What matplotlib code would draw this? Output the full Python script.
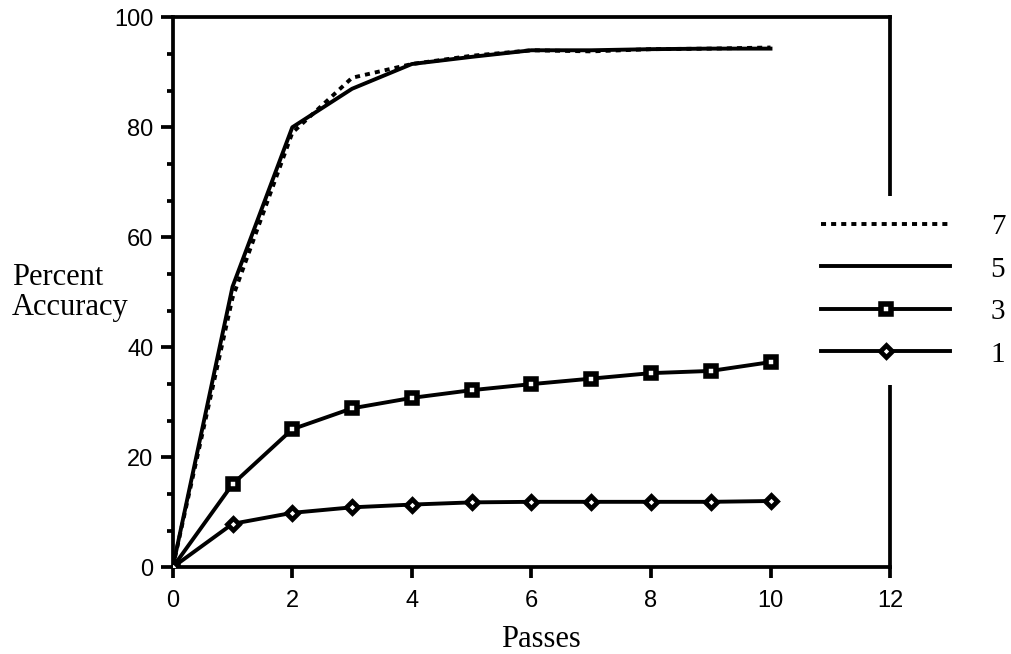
import matplotlib
matplotlib.use("Agg")
import matplotlib.pyplot as plt
from matplotlib.ticker import MultipleLocator

passes = [0, 1, 2, 3, 4, 5, 6, 7, 8, 9, 10]
acc_7 = [0, 49, 79, 89, 91.5, 93, 94, 93.8, 94.2, 94.3, 94.5]
acc_5 = [0, 51, 80, 87, 91.5, 92.8, 94, 94, 94.2, 94.3, 94.3]
acc_3 = [0, 15.1, 25.1, 28.9, 30.8, 32.2, 33.3, 34.3, 35.3, 35.7, 37.3]
acc_1 = [0, 7.9, 9.9, 10.9, 11.4, 11.8, 11.9, 11.9, 11.9, 11.9, 12.05]
labels = ["7", "5", "3", "1"]
x_ticks = [0, 2, 4, 6, 8, 10, 12]
y_ticks = [0, 20, 40, 60, 80, 100]

fig = plt.figure(figsize=(10.12, 6.54), dpi=100)
ax = fig.add_axes([0.1707, 0.1326, 0.7088, 0.8410])

lw = 2.8
ax.plot(passes, acc_7, color="black", lw=lw, linestyle=(0, (1.3, 1.3)),
        label=labels[0], zorder=3)
ax.plot(passes, acc_5, color="black", lw=lw, label=labels[1], zorder=3)
ax.plot(passes, acc_3, color="black", lw=lw, marker="s", markersize=7,
        markerfacecolor="white", markeredgecolor="black", markeredgewidth=4,
        label=labels[2], zorder=4)
ax.plot(passes, acc_1, color="black", lw=lw, marker="D", markersize=6,
        markerfacecolor="white", markeredgecolor="black", markeredgewidth=3.4,
        label=labels[3], zorder=4)

ax.set_xlim(0, 12)
ax.set_ylim(0, 100)
ax.set_xticks(x_ticks)
ax.set_yticks(y_ticks)
ax.yaxis.set_minor_locator(MultipleLocator(20 / 3))

for s in ax.spines.values():
    s.set_linewidth(2.7)

tick_font = {"family": "Liberation Sans", "size": 17}
ax.set_xticklabels([str(v) for v in x_ticks], fontdict=tick_font)
ax.set_yticklabels([str(v) for v in y_ticks], fontdict=tick_font)
ax.tick_params(axis="x", which="major", direction="out", length=8, width=2.7, pad=8)
ax.tick_params(axis="y", which="major", direction="out", length=9, width=2.7, pad=5)
ax.tick_params(axis="y", which="minor", direction="out", length=4.3, width=2.7)

ax.set_xlabel("Passes", family="Liberation Serif", fontsize=22)
ax.xaxis.set_label_coords(0.513, -0.1056)
ax.set_ylabel("Percent\nAccuracy", family="Liberation Serif", fontsize=22,
              rotation=0, ha="left", va="center", multialignment="left",
              linespacing=1.05)
ax.yaxis.set_label_coords(-0.2245, 0.500)

leg = ax.legend(loc="center left", bbox_to_anchor=(0.880, 0.503),
                borderaxespad=0, frameon=True, fancybox=False,
                facecolor="white", edgecolor="none", framealpha=1,
                prop={"family": "Liberation Serif", "size": 21},
                handlelength=4.4, handletextpad=1.4, labelspacing=0.55,
                borderpad=0.6, numpoints=1)

fig.savefig("out.png", dpi=100)
